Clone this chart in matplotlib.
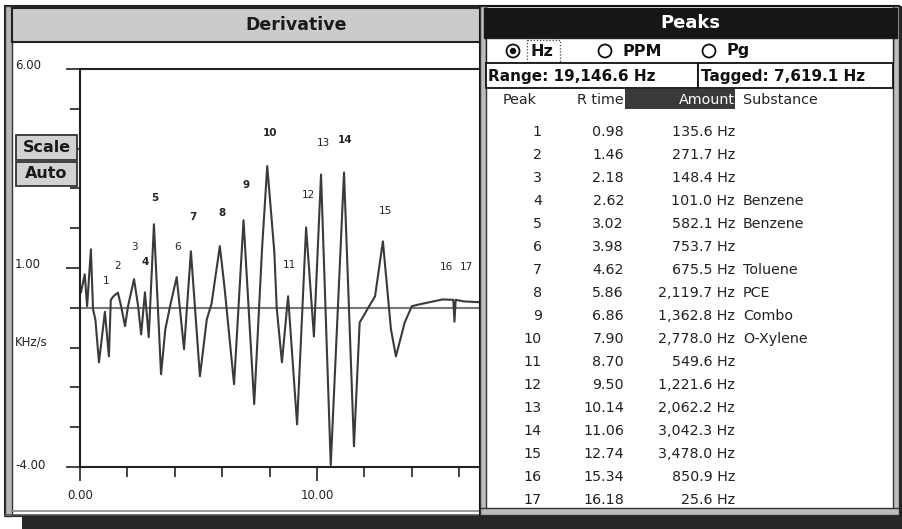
import matplotlib
matplotlib.use("Agg")
import matplotlib.pyplot as plt
from matplotlib.patches import Rectangle, Circle
from matplotlib import font_manager

W, H = 902, 529

# derivative trace: time (min) / KHz/s
trace_t = [0.04, 0.20, 0.30, 0.46, 0.55, 0.65, 0.80, 0.90, 1.05, 1.22, 1.30, 1.43,
           1.60, 1.73, 1.90, 2.03, 2.28, 2.45, 2.58, 2.74, 2.90, 3.12, 3.42, 3.60,
           3.80, 4.08, 4.39, 4.68, 5.06, 5.35, 5.55, 5.90, 6.10, 6.50, 6.90, 7.35,
           7.68, 7.90, 8.20, 8.30, 8.52, 8.78, 9.16, 9.54, 9.87, 10.17, 10.58, 11.14,
           11.56, 11.80, 12.20, 12.45, 12.78, 13.12, 13.33, 13.70, 14.00, 14.35,
           15.30, 15.75, 15.80, 15.85, 16.20, 16.90]
trace_v = [0.39, 0.84, 0.04, 1.47, -0.04, -0.30, -1.37, -0.87, -0.10, -1.22, 0.20, 0.30,
           0.38, 0.05, -0.46, 0.05, 0.72, 0.05, -0.67, 0.39, -0.74, 2.10, -1.67, -0.54,
           0.04, 0.77, -1.04, 1.42, -1.72, -0.29, 0.10, 1.55, 0.50, -1.92, 2.20, -2.42,
           1.47, 3.56, 1.40, 0.00, -1.37, 0.29, -2.93, 2.02, -0.72, 3.35, -3.95, 3.40,
           -3.48, -0.37, 0.04, 0.29, 1.67, -0.54, -1.22, -0.37, 0.04, 0.09,
           0.21, 0.20, -0.35, 0.20, 0.16, 0.14]

# peak table
peak_no = list(range(1, 18))
rt = [0.98, 1.46, 2.18, 2.62, 3.02, 3.98, 4.62, 5.86, 6.86, 7.90, 8.70, 9.50,
      10.14, 11.06, 12.74, 15.34, 16.18]
amount = ["135.6", "271.7", "148.4", "101.0", "582.1", "753.7", "675.5", "2,119.7",
          "1,362.8", "2,778.0", "549.6", "1,221.6", "2,062.2", "3,042.3", "3,478.0",
          "850.9", "25.6"]
substance = ["", "", "", "Benzene", "Benzene", "", "Toluene", "PCE", "Combo",
             "O-Xylene", "", "", "", "", "", "", ""]
label_h = [0.67, 1.04, 1.54, 1.14, 2.75, 1.54, 2.29, 2.37, 3.08, 4.38, 1.07, 2.83,
           4.13, 4.21, 2.42, 1.02, 1.02]
bold_peaks = [4, 5, 7, 8, 9, 10, 14]

range_txt = "Range: 19,146.6 Hz"
tagged_txt = "Tagged: 7,619.1 Hz"

names = {f.name for f in font_manager.fontManager.ttflist}
if "Liberation Sans Narrow" in names:
    tab_font, tab_size = "Liberation Sans Narrow", 12.5
else:
    tab_font, tab_size = "DejaVu Sans", 10.3


def box(ax, x0, y0, x1, y1, fc="none", ec="none", lw=1.0, z=1):
    ax.add_patch(Rectangle((x0, y0), x1 - x0, y1 - y0, facecolor=fc,
                           edgecolor=ec, linewidth=lw, zorder=z))


def ui_axes(z):
    a = fig.add_axes([0, 0, 1, 1], zorder=z)
    a.set_xlim(0, W)
    a.set_ylim(H, 0)
    a.axis("off")
    a.patch.set_visible(False)
    return a


fig = plt.figure(figsize=(W / 100, H / 100), dpi=100)
fig.patch.set_facecolor("white")

# ---- Derivative window (background) ----
bg = ui_axes(0)
box(bg, 5, 6, 482, 516, fc="white", ec="#222222", lw=1.5)
box(bg, 5, 6, 12, 516, fc="#b8b8b8", ec="#333333", lw=1.0)
box(bg, 12, 8, 482, 42, fc="#cbcbcb", ec="#222222", lw=1.5)
bg.plot([12, 482], [511, 511], color="#888888", lw=1.2)
bg.plot([5, 482], [514.5, 514.5], color="#555555", lw=1.2)
bg.text(296, 25, "Derivative", ha="center", va="center", fontsize=12.5,
        fontweight="bold", color="#1a1a1a")

# ---- chart ----
ax = fig.add_axes([80 / W, (H - 467) / H, (481 - 80) / W, (467 - 69) / H], zorder=1)
ax.patch.set_visible(False)
ax.set_xlim(0, (481 - 80) / 23.7)
ax.set_ylim(-4, 6)
ax.spines["right"].set_visible(False)
for s in ["left", "bottom", "top"]:
    ax.spines[s].set_color("#222222")
    ax.spines[s].set_linewidth(1.5)

ax.axhline(0, color="#777777", lw=1.5, zorder=1)
ax.plot(trace_t, trace_v, color="#3a3a3a", lw=1.5, zorder=2)

for n, t, h in zip(peak_no, rt, label_h):
    ax.text(t + 0.13, h, str(n), ha="center", va="center", fontsize=7.5,
            fontweight="bold" if n in bold_peaks else "normal", color="#222222")

ax.set_yticks([-4, 1, 6])
ax.set_yticks(range(-4, 7), minor=True)
ax.tick_params(axis="y", which="major", length=10, width=1.2, labelleft=False,
               color="#222222")
ax.tick_params(axis="y", which="minor", length=7.5, width=1.2, color="#222222")
ax.set_xticks([0, 10])
ax.set_xticklabels(["0.00", "10.00"])
ax.set_xticks(range(0, 17, 2), minor=True)
ax.tick_params(axis="x", which="major", length=10, width=1.2, labelsize=8.5, pad=6,
               color="#222222", labelcolor="#222222")
ax.tick_params(axis="x", which="minor", length=7, width=1.2, color="#222222")

yt = ax.get_yaxis_transform()
lx = (15 - 80) / 401
for v, s in [(6.1, "6.00"), (1.1, "1.00"), (-3.95, "-4.00"), (-0.87, "KHz/s")]:
    ax.text(lx, v, s, transform=yt, ha="left", va="center", fontsize=8.5,
            color="#222222")

# ---- foreground: buttons, Peaks window, shadow ----
fg = ui_axes(3)
for y0, y1, lab in [(135, 160, "Scale"), (162, 186, "Auto")]:
    box(fg, 16, y0, 77, y1, fc="#d2d2d2", ec="#333333", lw=1.3)
    fg.text(46.5, (y0 + y1) / 2, lab, ha="center", va="center", fontsize=11.5,
            fontweight="bold", color="#1a1a1a")

box(fg, 480, 6, 899, 515, fc="white", ec="#111111", lw=1.5)
box(fg, 480, 6, 486, 515, fc="#bdbdbd", ec="#333333", lw=1.0)
box(fg, 893, 6, 899, 515, fc="#bdbdbd", ec="#333333", lw=1.0)
box(fg, 480, 508, 899, 515, fc="#bdbdbd", ec="#333333", lw=1.0)
box(fg, 484, 8, 897, 38, fc="#161616", ec="#161616", lw=1.0)
fg.text(690, 23, "Peaks", ha="center", va="center", fontsize=13, fontweight="bold",
        color="white")

# unit selector
box(fg, 486, 38, 893, 63, fc="white", ec="#222222", lw=1.0)
for cx, lab, on in [(513, "Hz", True), (605, "PPM", False), (709, "Pg", False)]:
    fg.add_patch(Circle((cx, 51), 6.5, facecolor="white", edgecolor="#111111", lw=1.3))
    if on:
        fg.add_patch(Circle((cx, 51), 3.2, facecolor="#111111", edgecolor="none"))
    fg.text(cx + 18, 51, lab, ha="left", va="center", fontsize=11.5,
            fontweight="bold", color="#111111")
box(fg, 527, 40, 560, 62, ec="#444444", lw=0.9)
fg.patches[-1].set_linestyle((0, (1, 1.5)))

box(fg, 486, 63, 698, 88, fc="white", ec="#111111", lw=1.3)
box(fg, 698, 63, 893, 88, fc="white", ec="#111111", lw=1.3)
fg.text(488, 76, range_txt, ha="left", va="center", fontsize=11, fontweight="bold",
        color="#111111")
fg.text(701, 76, tagged_txt, ha="left", va="center", fontsize=11, fontweight="bold",
        color="#111111")

# table header
box(fg, 625, 89, 735, 109, fc="#3a3a3a", ec="none")
hdr = dict(va="center", fontsize=tab_size, family=tab_font, color="#222222")
fg.text(520, 100, "Peak", ha="center", **hdr)
fg.text(624, 100, "R time", ha="right", **hdr)
fg.text(735, 100, "Amount", ha="right", va="center", fontsize=tab_size,
        family=tab_font, color="white")
fg.text(743, 100, "Substance", ha="left", **hdr)

for i, n in enumerate(peak_no):
    y = 132 + 23 * i
    fg.text(542, y, str(n), ha="right", **hdr)
    fg.text(624, y, f"{rt[i]:.2f}", ha="right", **hdr)
    fg.text(735, y, f"{amount[i]} Hz", ha="right", **hdr)
    if substance[i]:
        fg.text(743, y, substance[i], ha="left", **hdr)

# drop shadow
box(fg, 22, 516, 902, 529, fc="#262626", ec="none")
box(fg, 899, 6, 902, 529, fc="#262626", ec="none")

fig.savefig("out.png", dpi=100)
